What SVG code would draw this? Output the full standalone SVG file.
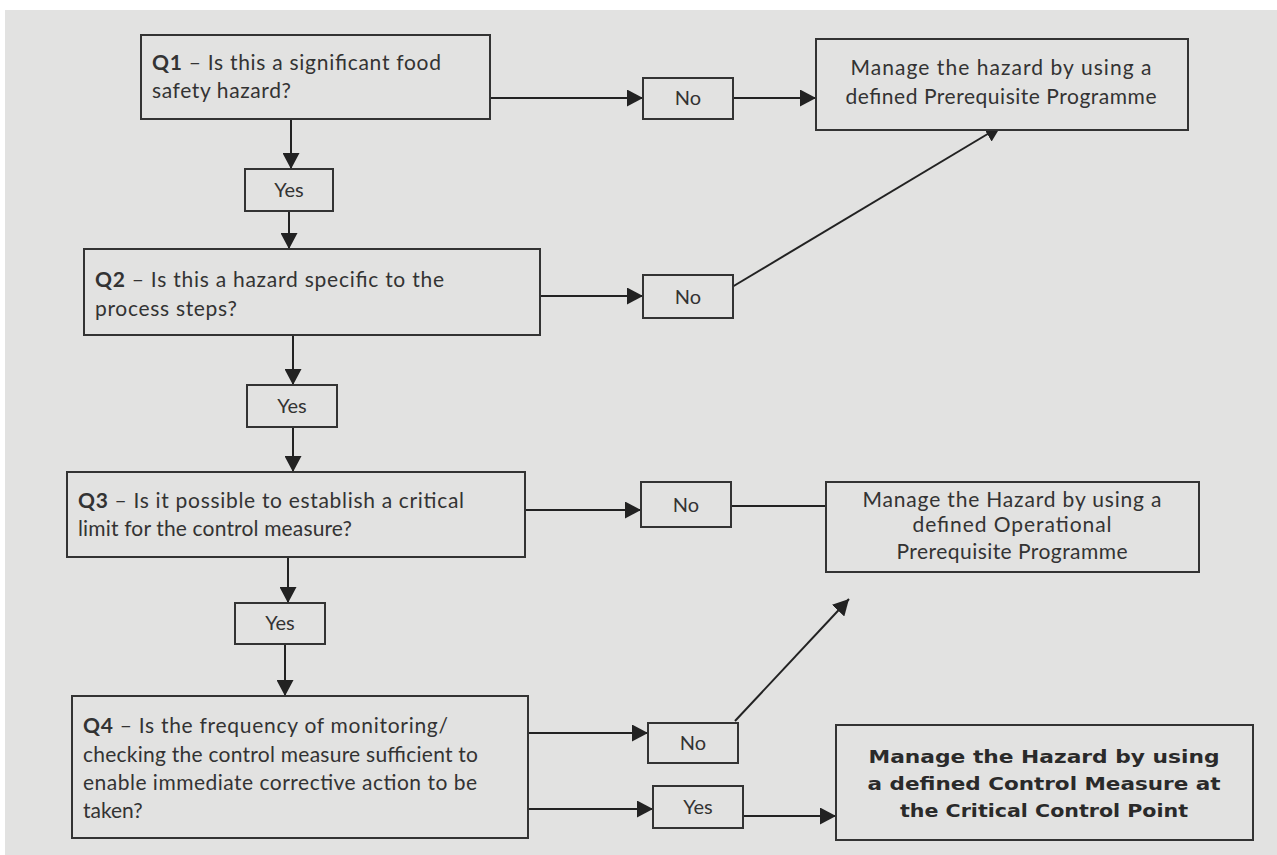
<svg xmlns="http://www.w3.org/2000/svg" width="1277" height="855" viewBox="0 0 1277 855">
  <defs>
    <marker id="arrow" markerUnits="userSpaceOnUse" markerWidth="16" markerHeight="17" refX="16" refY="8.5" orient="auto">
      <path d="M0,0 L16,8.5 L0,17 z" fill="#222"/>
    </marker>
    <style>
      .box { fill: #e2e2e1; stroke: #333; stroke-width: 2; }
      .q { font-family: Lato, "Liberation Sans", sans-serif; font-size: 21px; fill: #333; }
      .q tspan.b { font-weight: bold; font-size: 21px; }
      .lbl { font-family: Lato, "Liberation Sans", sans-serif; font-size: 20px; fill: #333; text-anchor: middle; }
      .res { font-family: Lato, "Liberation Sans", sans-serif; font-size: 21px; fill: #333; text-anchor: middle; }
      .ccp { font-family: "DejaVu Sans", "Liberation Sans", sans-serif; font-size: 18.5px; font-weight: bold; fill: #2a2a2a; text-anchor: middle; }
      .conn line { stroke: #222; stroke-width: 2; fill: none; }
    </style>
  </defs>

  <rect x="0" y="0" width="1277" height="855" fill="#ffffff"/>
  <rect x="5" y="10" width="1272" height="845" fill="#e2e2e1"/>

  <!-- connectors -->
  <g class="conn">
    <line x1="490" y1="98" x2="643" y2="98" marker-end="url(#arrow)"/>
    <line x1="733" y1="98" x2="816" y2="98" marker-end="url(#arrow)"/>
    <line x1="291" y1="119" x2="291" y2="169" marker-end="url(#arrow)"/>
    <line x1="289" y1="211" x2="289" y2="249" marker-end="url(#arrow)"/>
    <line x1="540" y1="296" x2="643" y2="296" marker-end="url(#arrow)"/>
    <line x1="727" y1="290" x2="1001" y2="126" marker-end="url(#arrow)"/>
    <line x1="293" y1="335" x2="293" y2="385" marker-end="url(#arrow)"/>
    <line x1="293" y1="427" x2="293" y2="472" marker-end="url(#arrow)"/>
    <line x1="525" y1="510" x2="641" y2="510" marker-end="url(#arrow)"/>
    <line x1="731" y1="506" x2="826" y2="506"/>
    <line x1="288" y1="557" x2="288" y2="603" marker-end="url(#arrow)"/>
    <line x1="285" y1="644" x2="285" y2="696" marker-end="url(#arrow)"/>
    <line x1="528" y1="733" x2="648" y2="733" marker-end="url(#arrow)"/>
    <line x1="735" y1="721" x2="849" y2="599" marker-end="url(#arrow)"/>
    <line x1="528" y1="809" x2="653" y2="809" marker-end="url(#arrow)"/>
    <line x1="743" y1="816" x2="836" y2="816" marker-end="url(#arrow)"/>
  </g>

  <!-- Q1 -->
  <g id="q1">
    <rect class="box" x="141" y="35" width="349" height="84"/>
    <text class="q" x="152" y="70" textLength="289" lengthAdjust="spacing"><tspan class="b">Q1</tspan> – Is this a significant food</text>
    <text class="q" x="152" y="98" textLength="139" lengthAdjust="spacing">safety hazard?</text>
  </g>
  <g id="q1-no">
    <rect class="box" x="643" y="78" width="90" height="41"/>
    <text class="lbl" x="688" y="105">No</text>
  </g>
  <g id="prp">
    <rect class="box" x="816" y="39" width="372" height="91"/>
    <text class="res" x="1001" y="75" textLength="301" lengthAdjust="spacing">Manage the hazard by using a</text>
    <text class="res" x="1001" y="104" textLength="311" lengthAdjust="spacing">defined Prerequisite Programme</text>
  </g>
  <g id="q1-yes">
    <rect class="box" x="245" y="169" width="88" height="42"/>
    <text class="lbl" x="289" y="197">Yes</text>
  </g>

  <!-- Q2 -->
  <g id="q2">
    <rect class="box" x="84" y="249" width="456" height="86"/>
    <text class="q" x="95" y="287" textLength="349" lengthAdjust="spacing"><tspan class="b">Q2</tspan> – Is this a hazard specific to the</text>
    <text class="q" x="95" y="316" textLength="142" lengthAdjust="spacing">process steps?</text>
  </g>
  <g id="q2-no">
    <rect class="box" x="643" y="275" width="90" height="43"/>
    <text class="lbl" x="688" y="304">No</text>
  </g>
  <g id="q2-yes">
    <rect class="box" x="247" y="385" width="90" height="42"/>
    <text class="lbl" x="292" y="413">Yes</text>
  </g>

  <!-- Q3 -->
  <g id="q3">
    <rect class="box" x="67" y="472" width="458" height="85"/>
    <text class="q" x="78" y="508" textLength="386" lengthAdjust="spacing"><tspan class="b">Q3</tspan> – Is it possible to establish a critical</text>
    <text class="q" x="78" y="536" textLength="274" lengthAdjust="spacing">limit for the control measure?</text>
  </g>
  <g id="q3-no">
    <rect class="box" x="641" y="482" width="90" height="45"/>
    <text class="lbl" x="686" y="512">No</text>
  </g>
  <g id="oprp">
    <rect class="box" x="826" y="482" width="373" height="90"/>
    <text class="res" x="1012" y="507" textLength="299" lengthAdjust="spacing">Manage the Hazard by using a</text>
    <text class="res" x="1012" y="532" textLength="199" lengthAdjust="spacing">defined Operational</text>
    <text class="res" x="1012" y="559" textLength="231" lengthAdjust="spacing">Prerequisite Programme</text>
  </g>
  <g id="q3-yes">
    <rect class="box" x="235" y="603" width="90" height="41"/>
    <text class="lbl" x="280" y="630">Yes</text>
  </g>

  <!-- Q4 -->
  <g id="q4">
    <rect class="box" x="72" y="696" width="456" height="142"/>
    <text class="q" x="83" y="733" textLength="365" lengthAdjust="spacing"><tspan class="b">Q4</tspan> – Is the frequency of monitoring/</text>
    <text class="q" x="83" y="762" textLength="395" lengthAdjust="spacing">checking the control measure sufficient to</text>
    <text class="q" x="83" y="790" textLength="394" lengthAdjust="spacing">enable immediate corrective action to be</text>
    <text class="q" x="83" y="818">taken?</text>
  </g>
  <g id="q4-no">
    <rect class="box" x="648" y="723" width="90" height="40"/>
    <text class="lbl" x="693" y="750">No</text>
  </g>
  <g id="q4-yes">
    <rect class="box" x="653" y="786" width="90" height="42"/>
    <text class="lbl" x="698" y="814">Yes</text>
  </g>
  <g id="ccp">
    <rect class="box" x="836" y="725" width="417" height="115"/>
    <text class="ccp" x="1044" y="763" textLength="351" lengthAdjust="spacingAndGlyphs">Manage the Hazard by using</text>
    <text class="ccp" x="1044" y="790" textLength="353" lengthAdjust="spacingAndGlyphs">a defined Control Measure at</text>
    <text class="ccp" x="1044" y="817" textLength="288" lengthAdjust="spacingAndGlyphs">the Critical Control Point</text>
  </g>
</svg>
